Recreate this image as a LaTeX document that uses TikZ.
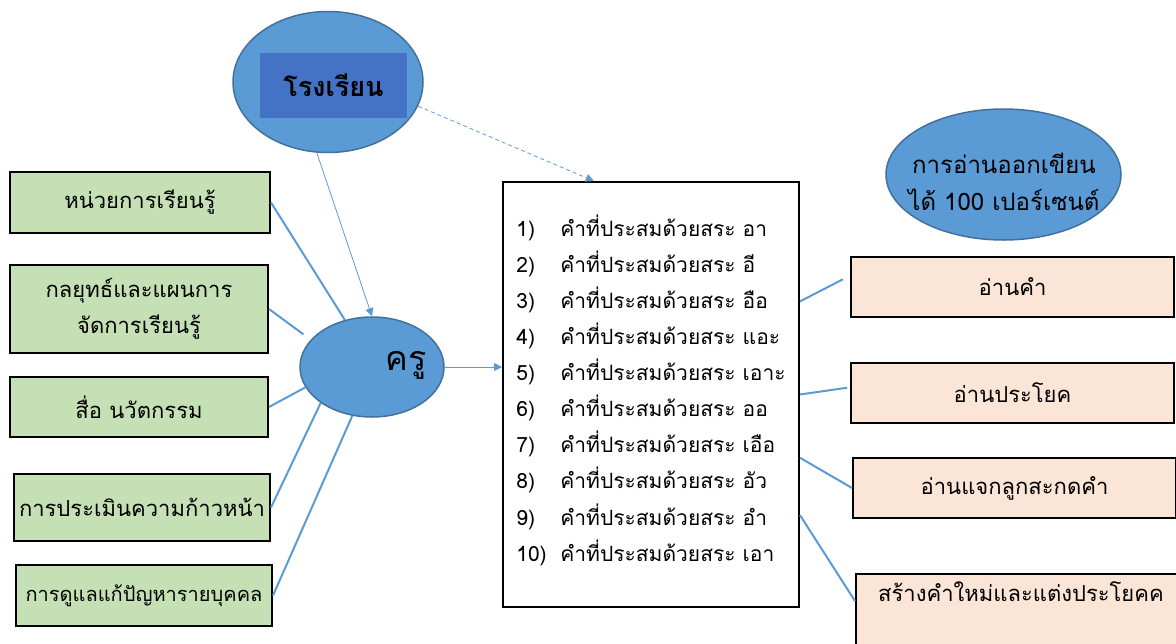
\documentclass[tikz,border=0pt]{standalone}
\usepackage{fontspec}
\newfontfamily\thaifont[Script=Thai]{Loma}
\usepackage{tikz}
\usetikzlibrary{positioning,arrows.meta,shapes.geometric}
\definecolor{ovalblue}{RGB}{91,155,213}
\definecolor{ovalborder}{RGB}{65,113,156}
\definecolor{tagblue}{RGB}{68,114,196}
\definecolor{pastelgreen}{RGB}{197,224,180}
\definecolor{pastelpeach}{RGB}{251,229,214}
\tikzset{arista/.style={line width=2pt, draw=ovalblue}}
\tikzset{flecha/.style={line width=0.8pt, draw=ovalblue, -{Triangle[width=8pt,length=8pt]}}}
\tikzset{greenbox/.style={draw, line width=2pt, fill=pastelgreen, inner sep=0pt}}
\tikzset{peachbox/.style={draw, line width=2pt, fill=pastelpeach, inner sep=0pt, minimum width=323pt, minimum height=60pt}}
\tikzset{oval/.style={draw=ovalborder, line width=1.5pt, fill=ovalblue, ellipse, inner sep=0pt}}

\begin{document}
\begin{tikzpicture}[x=1pt, y=-1pt, every node/.style={font=\thaifont\fontsize{22}{36}\selectfont}]
            \useasboundingbox (0,0) rectangle (1176,643);

            \node[oval, minimum width=190pt, minimum height=141pt] (school) at (328,82) {};
            \node[fill=tagblue, minimum width=147pt, minimum height=65pt, font=\thaifont\bfseries\fontsize{27}{30}\selectfont] (schooltag) at (333.5,85.5) {โรงเรียน};
            \node[oval, minimum width=144pt, minimum height=100pt] (kru) at (372,367) {};
            \node[font=\thaifont\fontsize{34}{40}\selectfont] (krutext) at (406,365) {ครู};
            \node[oval, minimum width=235pt, minimum height=131pt] (goal) at (1003.5,174.5) {};
            \node[align=center, inner sep=0pt, font=\thaifont\fontsize{24}{37}\selectfont] (goaltext) at (1004,182) {การอ่านออกเขียน\\ได้ 100 เปอร์เซนต์};

            \node[greenbox, minimum width=260pt, minimum height=61pt] (b1) at (140,202.5) {หน่วยการเรียนรู้};
            \node[greenbox, minimum width=258pt, minimum height=88pt, align=center] (b2) at (139,309) {กลยุทธ์และแผนการ\\จัดการเรียนรู้};
            \node[greenbox, minimum width=258pt, minimum height=60pt] (b3) at (139,407) {สื่อ นวัตกรรม};
            \node[greenbox, minimum width=256pt, minimum height=67pt] (b4) at (142,507.5) {การประเมินความก้าวหน้า};
            \node[greenbox, minimum width=256pt, minimum height=61pt, font=\thaifont\fontsize{20}{24}\selectfont] (b5) at (144,595.5) {การดูแลแก้ปัญหารายบุคคล};

            \node[draw, line width=2pt, fill=white, minimum width=296pt, minimum height=425pt, font=\thaifont\fontsize{21}{36.1}\selectfont] (list) at (651,394.5) {%
              \begin{tabular}{@{}p{44pt}@{}l@{}}
                1)  & คำที่ประสมด้วยสระ อา\\
                2)  & คำที่ประสมด้วยสระ อี\\
                3)  & คำที่ประสมด้วยสระ อือ\\
                4)  & คำที่ประสมด้วยสระ แอะ\\
                5)  & คำที่ประสมด้วยสระ เอาะ\\
                6)  & คำที่ประสมด้วยสระ ออ\\
                7)  & คำที่ประสมด้วยสระ เอือ\\
                8)  & คำที่ประสมด้วยสระ อัว\\
                9)  & คำที่ประสมด้วยสระ อำ\\
                10) & คำที่ประสมด้วยสระ เอา\\[6pt]
              \end{tabular}};

            \node[peachbox] (r1) at (1012.5,287) {อ่านคำ};
            \node[peachbox] (r2) at (1012.5,393) {อ่านประโยค};
            \node[peachbox] (r3) at (1014.5,488) {อ่านแจกลูกสะกดคำ};
            \node[peachbox, minimum height=0pt, minimum width=330pt, text height=27pt, text depth=57pt, anchor=base west] (r4) at (855,601) {สร้างคำใหม่และแต่งประโยคค};

            \draw[flecha] (school.261) to (kru.north);
            \draw[flecha, dash pattern=on 4pt off 3pt] (school.-15) to (list.105);
            \draw[flecha] (kru.east) to (kru.east -| list.west);

            \draw[arista] (b1.east) to (kru.120);
            \draw[arista, shorten >=9pt] (b2.east) to (kru.156);
            \draw[arista] (b3.east) to (kru.197);
            \draw[arista] (b4.east) to (kru.215);
            \draw[arista] (b5.east) to (kru.248);

            \draw[arista, shorten >=8pt] (list.32) to (r1.176);
            \draw[arista, shorten >=3pt] (list.east) to (r2.178);
            \draw[arista] (list.-23) to (r3.west);
            \draw[arista] (list.-39) to (r4.base west);
        \end{tikzpicture}
\end{document}
